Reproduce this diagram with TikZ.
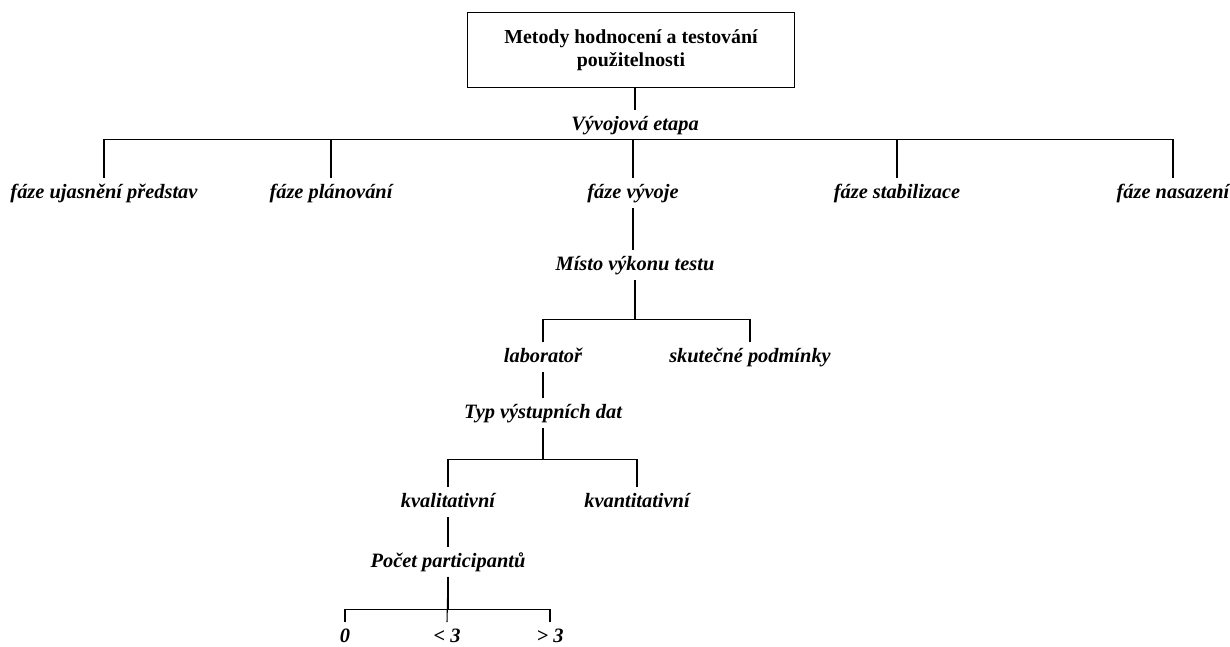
\documentclass[tikz,border=0pt]{standalone}
\usepackage{fontspec}
\setmainfont{Liberation Serif}
\begin{document}
\begin{tikzpicture}[x=0.75pt,y=-0.75pt,line width=0.8pt,
    lbl/.style={font=\fontsize{15.3}{18}\selectfont\bfseries\itshape,
      text height=11pt,text depth=3.5pt,inner xsep=0pt,inner ysep=3.5pt},
    rootbox/.style={draw,font=\fontsize{14.9}{17}\selectfont\bfseries,
      align=center,minimum width=245pt,minimum height=56pt}]
  \useasboundingbox (0,0) rectangle (1230,646);
  \node[rootbox] (root) at (631,50) {Metody hodnocení a testování\\použitelnosti};
  \node[lbl] (ve) at (635,125) {Vývojová etapa};
  \node[lbl] (f1) at (104,193) {fáze ujasnění představ};
  \node[lbl] (f2) at (331,193) {fáze plánování};
  \node[lbl] (f3) at (633,193) {fáze vývoje};
  \node[lbl] (f4) at (897,193) {fáze stabilizace};
  \node[lbl] (f5) at (1173,193) {fáze nasazení};
  \node[lbl] (mvt) at (635,265) {Místo výkonu testu};
  \node[lbl] (lab) at (543,357) {laboratoř};
  \node[lbl] (sp) at (750,357) {skutečné podmínky};
  \node[lbl] (typ) at (543,413) {Typ výstupních dat};
  \node[lbl] (kl) at (448,502) {kvalitativní};
  \node[lbl] (kn) at (637,502) {kvantitativní};
  \node[lbl] (poc) at (448,562) {Počet participantů};
  \node[lbl] (p0) at (345,637) {0};
  \node[lbl] (p1) at (447,637) {< 3};
  \node[lbl] (p2) at (550,637) {> 3};
  % vyvojova etapa
  \draw (root.south -| ve.north) -- (ve.north);
  \draw (f1.north) |- (ve.south) -| (f5.north);
  \foreach \f in {f2,f3,f4}
    \draw (\f.north) -- (\f.north |- ve.south);
  % misto vykonu testu
  \draw (f3.south) -- (f3.south |- mvt.north);
  \draw (mvt.south) -- ++(0,40) coordinate (j2);
  \draw (lab.north) |- (j2) -| (sp.north);
  % typ vystupnich dat
  \draw (lab.south) -- (typ.north);
  \draw (typ.south) -- ++(0,32) coordinate (j3);
  \draw (kl.north) |- (j3) -| (kn.north);
  % pocet participantu
  \draw (kl.south) -- (poc.north);
  \draw (poc.south) -- ++(0,33) coordinate (j4);
  \draw (poc.south) -- (p1.north);
  \draw (p0.north) |- (j4) -| (p2.north);
\end{tikzpicture}
\end{document}
